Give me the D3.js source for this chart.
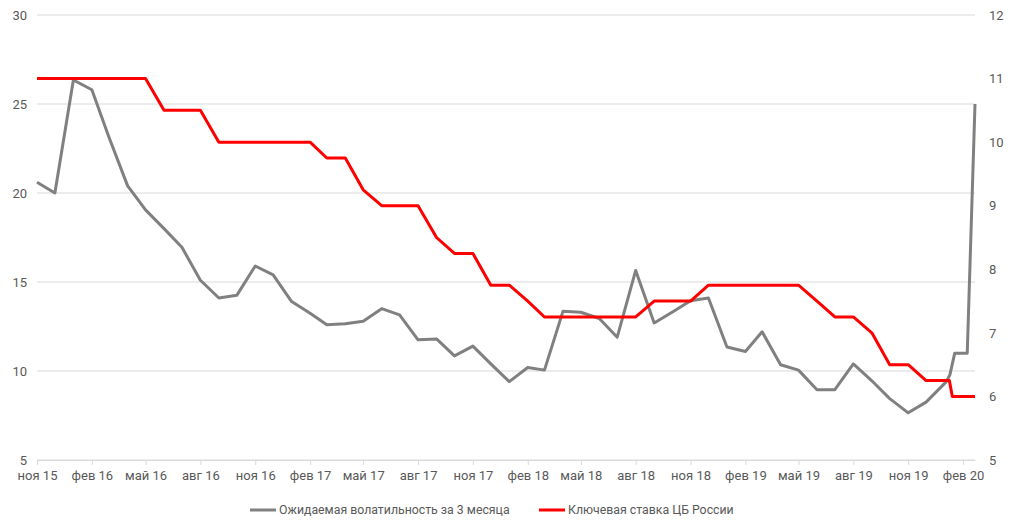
<!DOCTYPE html>
<html><head><meta charset="utf-8">
<script src="https://cdn.jsdelivr.net/npm/d3@7"></script>
<style>
body{margin:0;background:#fff;}
svg text{font-family:Roboto,"Liberation Sans",sans-serif;fill:#595959;}
</style></head>
<body><svg id="c" width="1012" height="530"></svg>
<script>
const volDates = ["2015-11-01","2015-12-01","2016-01-01","2016-02-01","2016-03-01","2016-04-01","2016-05-01","2016-06-01","2016-07-01","2016-08-01","2016-09-01","2016-10-01","2016-11-01","2016-12-01","2017-01-01","2017-02-01","2017-03-01","2017-04-01","2017-05-01","2017-06-01","2017-07-01","2017-08-01","2017-09-01","2017-10-01","2017-11-01","2017-12-01","2018-01-01","2018-02-01","2018-03-01","2018-04-01","2018-05-01","2018-06-01","2018-07-01","2018-08-01","2018-09-01","2018-10-01","2018-11-01","2018-12-01","2019-01-01","2019-02-01","2019-03-01","2019-04-01","2019-05-01","2019-06-01","2019-07-01","2019-08-01","2019-09-01","2019-10-01","2019-11-01","2019-12-01","2020-01-04","2020-01-10","2020-01-18","2020-02-08","2020-02-21"];
const volValues = [20.6,20.0,26.35,25.8,23.1,20.4,19.05,18.0,16.95,15.1,14.1,14.25,15.9,15.4,13.9,13.25,12.6,12.65,12.8,13.5,13.15,11.75,11.8,10.85,11.4,10.4,9.4,10.2,10.05,13.35,13.3,12.95,11.9,15.65,12.7,13.3,13.95,14.1,11.35,11.1,12.2,10.35,10.05,8.95,8.95,10.4,9.45,8.45,7.65,8.25,9.4,9.8,11.0,11.0,25.0];

const rateDates = ["2015-11-01","2015-12-01","2016-01-01","2016-02-01","2016-03-01","2016-04-01","2016-05-01","2016-06-01","2016-07-01","2016-08-01","2016-09-01","2016-10-01","2016-11-01","2016-12-01","2017-01-01","2017-02-01","2017-03-01","2017-04-01","2017-05-01","2017-06-01","2017-07-01","2017-08-01","2017-09-01","2017-10-01","2017-11-01","2017-12-01","2018-01-01","2018-02-01","2018-03-01","2018-04-01","2018-05-01","2018-06-01","2018-07-01","2018-08-01","2018-09-01","2018-10-01","2018-11-01","2018-12-01","2019-01-01","2019-02-01","2019-03-01","2019-04-01","2019-05-01","2019-06-01","2019-07-01","2019-08-01","2019-09-01","2019-10-01","2019-11-01","2019-12-01","2020-01-09","2020-01-14","2020-02-21"];
const rateValues = [11,11,11,11,11,11,11,10.5,10.5,10.5,10,10,10,10,10,10,9.75,9.75,9.25,9,9,9,8.5,8.25,8.25,7.75,7.75,7.5,7.25,7.25,7.25,7.25,7.25,7.25,7.5,7.5,7.5,7.75,7.75,7.75,7.75,7.75,7.75,7.5,7.25,7.25,7,6.5,6.5,6.25,6.25,6,6];

const tickDates = ["2015-11-01","2016-02-01","2016-05-01","2016-08-01","2016-11-01","2017-02-01","2017-05-01","2017-08-01","2017-11-01","2018-02-01","2018-05-01","2018-08-01","2018-11-01","2019-02-01","2019-05-01","2019-08-01","2019-11-01","2020-02-01"];
const tickLabels = ["ноя 15","фев 16","май 16","авг 16","ноя 16","фев 17","май 17","авг 17","ноя 17","фев 18","май 18","авг 18","ноя 18","фев 19","май 19","авг 19","ноя 19","фев 20"];
const leftTicks = [5,10,15,20,25,30];
const rightTicks = [5,6,7,8,9,10,11,12];
const seriesNames = ["Ожидаемая волатильность за 3 месяца","Ключевая ставка ЦБ России"];

const parse = d3.utcParse("%Y-%m-%d");
const svg = d3.select("#c");
const L = 37, R = 975, T = 15, B = 460;

const x = d3.scaleUtc().domain([parse(tickDates[0]), parse(volDates[volDates.length-1])]).range([L, R]);
const yL = d3.scaleLinear().domain([5,30]).range([B,T]);
const yR = d3.scaleLinear().domain([5,12]).range([B,T]);

// gridlines
svg.append("g").selectAll("line").data(leftTicks).join("line")
  .attr("x1", L).attr("x2", R).attr("y1", d=>yL(d)).attr("y2", d=>yL(d))
  .attr("stroke", "#d9d9d9").attr("stroke-width", 1);

// x axis
const xAxis = d3.axisBottom(x).tickValues(tickDates.map(parse))
  .tickFormat((d,i)=>tickLabels[i]).tickSize(5).tickSizeOuter(0).tickPadding(6);
const gx = svg.append("g").attr("transform", `translate(0,${B})`).call(xAxis);
gx.select(".domain").attr("stroke", "#d9d9d9");
gx.selectAll(".tick line").attr("stroke", "#d9d9d9");
gx.selectAll("text").attr("font-size", 13).attr("fill", "#595959");

// left axis
const gl = svg.append("g").attr("transform", `translate(${L},0)`)
  .call(d3.axisLeft(yL).tickValues(leftTicks).tickFormat(d3.format("d")).tickSize(0).tickPadding(10));
gl.select(".domain").remove();
gl.selectAll("text").attr("font-size", 13).attr("fill", "#595959");

// right axis
const gr = svg.append("g").attr("transform", `translate(${R},0)`)
  .call(d3.axisRight(yR).tickValues(rightTicks).tickFormat(d3.format("d")).tickSize(0).tickPadding(14));
gr.select(".domain").remove();
gr.selectAll("text").attr("font-size", 13).attr("fill", "#595959");

const volData = volDates.map((d,i)=>({d:parse(d), v:volValues[i]}));
const rateData = rateDates.map((d,i)=>({d:parse(d), v:rateValues[i]}));

svg.append("path").datum(volData)
  .attr("d", d3.line().x(p=>x(p.d)).y(p=>yL(p.v)))
  .attr("fill","none").attr("stroke","#808080").attr("stroke-width",3).attr("stroke-linejoin","round");
svg.append("path").datum(rateData)
  .attr("d", d3.line().x(p=>x(p.d)).y(p=>yR(p.v)))
  .attr("fill","none").attr("stroke","#ff0000").attr("stroke-width",3).attr("stroke-linejoin","round");

// legend
const leg = [{x:250, c:"#808080", t:seriesNames[0]},{x:539, c:"#ff0000", t:seriesNames[1]}];
const lg = svg.append("g").selectAll("g").data(leg).join("g").attr("transform", d=>`translate(${d.x},510)`);
lg.append("line").attr("x1",0).attr("x2",26).attr("y1",0).attr("y2",0).attr("stroke",d=>d.c).attr("stroke-width",3);
lg.append("text").attr("x",29).attr("y",0).attr("dy","0.35em").attr("font-size",12.3).attr("fill","#595959").text(d=>d.t);
</script></body></html>
